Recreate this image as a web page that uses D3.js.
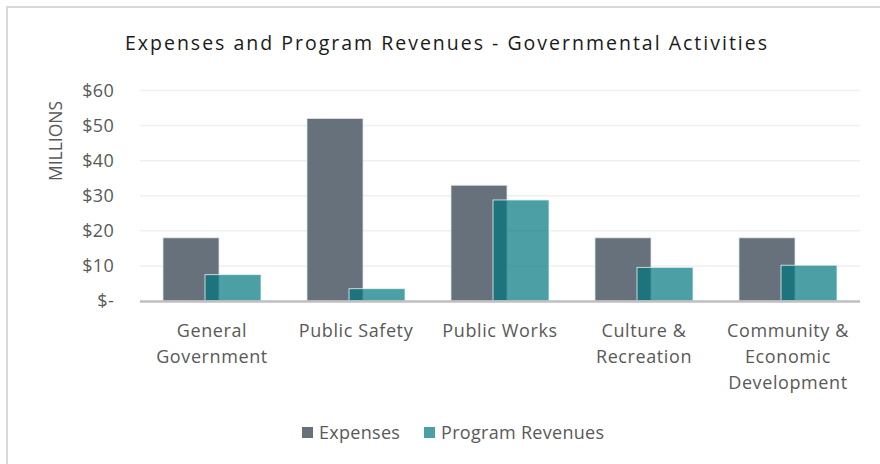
<!DOCTYPE html>
<html>
<head>
<meta charset="utf-8">
<script src="https://cdn.jsdelivr.net/npm/d3@7"></script>
<style>
  html, body { margin: 0; padding: 0; background: #fff; }
  svg { display: block; }
</style>
</head>
<body>
<svg id="chart" width="880" height="464"></svg>
<script>
// Governmental activities, in millions of dollars
const categories = [
  ["General", "Government"],
  ["Public Safety"],
  ["Public Works"],
  ["Culture &", "Recreation"],
  ["Community &", "Economic", "Development"]
];
const expenses = [18, 52, 33, 18, 18];
const programRevenues = [7.5, 3.5, 28.8, 9.6, 10.2];
const yTicks = [0, 10, 20, 30, 40, 50, 60];
const seriesNames = ["Expenses", "Program Revenues"];

const svg = d3.select("#chart");
const font = "'Open Sans', sans-serif";
const textColor = "#595959";

// chart frame
svg.append("rect")
  .attr("x", 7).attr("y", 7).attr("width", 900).attr("height", 480)
  .attr("fill", "#fff").attr("stroke", "#d9d9d9").attr("stroke-width", 2);

const x0 = 140, x1 = 860;
const y = d3.scaleLinear().domain([0, 60]).range([301, 90.5]);
const x = d3.scaleBand().domain(d3.range(categories.length)).range([x0, x1]);
const barW = 56, shift = 42;

// title
svg.append("text")
  .attr("x", 447).attr("y", 50)
  .attr("text-anchor", "middle")
  .attr("font-family", font).attr("font-size", 19.5)
  .attr("letter-spacing", 2)
  .attr("fill", "#1a1a1a")
  .text("Expenses and Program Revenues - Governmental Activities");

// gridlines
svg.append("g").selectAll("line")
  .data(yTicks.filter(d => d > 0))
  .join("line")
  .attr("x1", x0).attr("x2", x1)
  .attr("y1", d => y(d)).attr("y2", d => y(d))
  .attr("stroke", "#efefef").attr("stroke-width", 1.5);

// y axis labels
const yAxis = d3.axisLeft(y).tickValues(yTicks).tickSize(0).tickPadding(0)
  .tickFormat(d => d === 0 ? "$-" : "$" + d);
svg.append("g")
  .attr("transform", "translate(114,0)")
  .call(yAxis)
  .call(g => g.select(".domain").remove())
  .call(g => g.selectAll("text")
    .attr("font-family", font).attr("font-size", 18)
    .attr("letter-spacing", 0.3)
    .attr("fill", textColor));

svg.append("text")
  .attr("transform", "translate(62,141) rotate(-90)")
  .attr("text-anchor", "middle")
  .attr("font-family", font).attr("font-size", 17.5)
  .attr("fill", textColor)
  .text("MILLIONS");

// bars
const bars = svg.append("g");
bars.selectAll("rect.exp")
  .data(expenses)
  .join("rect")
  .attr("class", "exp")
  .attr("x", (d, i) => x(i) + x.bandwidth() / 2 - (barW + shift) / 2)
  .attr("width", barW)
  .attr("y", d => y(d))
  .attr("height", d => y(0) - y(d))
  .attr("fill", "#66717b")
  .attr("stroke", "#dfe3e6").attr("stroke-width", 0.8);

bars.selectAll("rect.rev")
  .data(programRevenues)
  .join("rect")
  .attr("class", "rev")
  .attr("x", (d, i) => x(i) + x.bandwidth() / 2 - (barW + shift) / 2 + shift)
  .attr("width", barW)
  .attr("y", d => y(d))
  .attr("height", d => y(0) - y(d))
  .attr("fill", "rgb(0,118,125)").attr("fill-opacity", 0.7)
  .attr("stroke", "#e6f2f3").attr("stroke-width", 0.8);

// baseline
svg.append("line")
  .attr("x1", x0).attr("x2", x1)
  .attr("y1", y(0) + 0.5).attr("y2", y(0) + 0.5)
  .attr("stroke", "#bfbfbf").attr("stroke-width", 2.5);

// category labels
const xl = svg.append("g");
categories.forEach((lines, i) => {
  const t = xl.append("text")
    .attr("text-anchor", "middle")
    .attr("font-family", font).attr("font-size", 18)
    .attr("letter-spacing", 0.6)
    .attr("fill", textColor);
  lines.forEach((ln, j) => {
    t.append("tspan")
      .attr("x", x(i) + x.bandwidth() / 2)
      .attr("y", 336.5 + j * 26)
      .text(ln);
  });
});

// legend
const legendColors = ["#66717b", "rgba(0,118,125,0.7)"];
const legendX = [302, 424];
const lg = svg.append("g");
seriesNames.forEach((name, i) => {
  lg.append("rect")
    .attr("x", legendX[i]).attr("y", 427)
    .attr("width", 11).attr("height", 11)
    .attr("fill", legendColors[i]);
  lg.append("text")
    .attr("x", legendX[i] + 17).attr("y", 439)
    .attr("font-family", font).attr("font-size", 18)
    .attr("letter-spacing", 0.3)
    .attr("fill", textColor)
    .text(name);
});
</script>
</body>
</html>
